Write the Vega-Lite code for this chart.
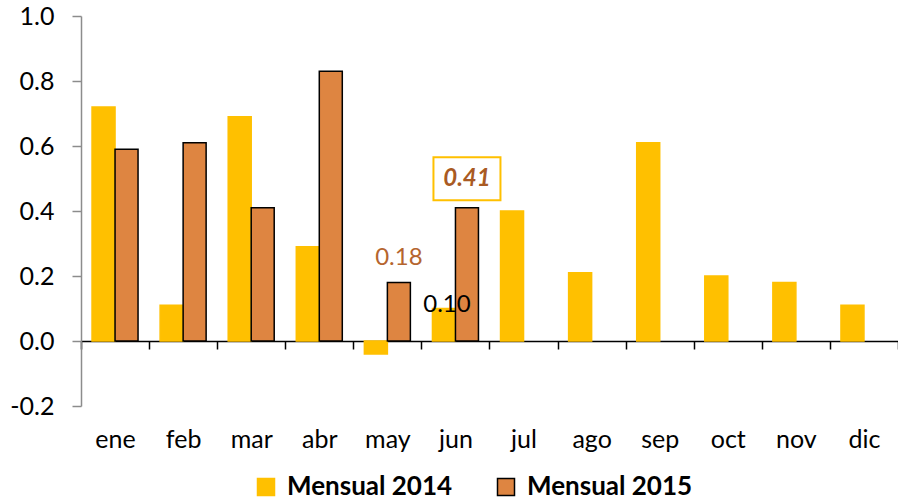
{
  "$schema": "https://vega.github.io/schema/vega-lite/v6.json",
  "width": 817,
  "height": 390,
  "autosize": {"type": "none"},
  "padding": {"left": 81, "top": 16, "right": 0, "bottom": 96},
  "background": "white",
  "config": {"font": "Lato", "view": {"stroke": null}},
  "data": {
    "values": [
      {"mes": "ene", "serie": "Mensual 2014", "valor": 0.72},
      {"mes": "ene", "serie": "Mensual 2015", "valor": 0.59},
      {"mes": "feb", "serie": "Mensual 2014", "valor": 0.11},
      {"mes": "feb", "serie": "Mensual 2015", "valor": 0.61},
      {"mes": "mar", "serie": "Mensual 2014", "valor": 0.69},
      {"mes": "mar", "serie": "Mensual 2015", "valor": 0.41},
      {"mes": "abr", "serie": "Mensual 2014", "valor": 0.29},
      {"mes": "abr", "serie": "Mensual 2015", "valor": 0.83},
      {"mes": "may", "serie": "Mensual 2014", "valor": -0.04},
      {"mes": "may", "serie": "Mensual 2015", "valor": 0.18},
      {"mes": "jun", "serie": "Mensual 2014", "valor": 0.10},
      {"mes": "jun", "serie": "Mensual 2015", "valor": 0.41},
      {"mes": "jul", "serie": "Mensual 2014", "valor": 0.40},
      {"mes": "ago", "serie": "Mensual 2014", "valor": 0.21},
      {"mes": "sep", "serie": "Mensual 2014", "valor": 0.61},
      {"mes": "oct", "serie": "Mensual 2014", "valor": 0.20},
      {"mes": "nov", "serie": "Mensual 2014", "valor": 0.18},
      {"mes": "dic", "serie": "Mensual 2014", "valor": 0.11}
    ]
  },
  "encoding": {
    "x": {
      "field": "mes", "type": "nominal", "sort": null,
      "scale": {"domain": ["ene","feb","mar","abr","may","jun","jul","ago","sep","oct","nov","dic"], "paddingInner": 0, "paddingOuter": 0},
      "axis": {
        "title": null, "orient": "bottom", "offset": -65,
        "domainColor": "black", "domainWidth": 1.5,
        "ticks": true, "tickBand": "extent", "tickColor": "black", "tickSize": 8, "tickWidth": 1.5,
        "labelAngle": 0, "labelFontSize": 25, "labelColor": "black", "labelPadding": 78, "labelFont": "Lato"
      }
    },
    "xOffset": {"field": "serie", "type": "nominal", "scale": {"domain": ["Mensual 2014", "Mensual 2015"], "paddingInner": 0, "paddingOuter": 0.48}},
    "y": {
      "field": "valor", "type": "quantitative",
      "scale": {"domain": [-0.2, 1.0], "nice": false, "zero": false},
      "axis": {
        "title": null, "values": [-0.2, 0, 0.2, 0.4, 0.6, 0.8, 1.0], "format": ".1f", "grid": false,
        "labelExpr": "replace(datum.label, '\u2212', '-')",
        "domainColor": "#8c8c8c", "domainWidth": 1.5, "tickColor": "#8c8c8c", "tickSize": 9, "tickWidth": 1.5,
        "labelFontSize": 25, "labelColor": "black", "labelPadding": 18, "labelFont": "Lato"
      }
    }
  },
  "layer": [
    {
      "mark": {"type": "bar", "strokeWidth": 1.5},
      "encoding": {
        "color": {
          "field": "serie", "type": "nominal",
          "scale": {"domain": ["Mensual 2014", "Mensual 2015"], "range": ["#FFC000", "#DE8541"]},
          "legend": {
            "title": null, "orient": "none", "direction": "horizontal", "legendX": 172, "legendY": 458,
            "symbolType": "square", "symbolSize": 289, "symbolStrokeWidth": 1.5,
            "labelFontSize": 26, "labelFontWeight": "bold", "labelColor": "black", "labelFont": "Lato",
            "labelOffset": 8, "columnPadding": 40, "labelLimit": 400
          }
        },
        "stroke": {
          "field": "serie", "type": "nominal",
          "scale": {"domain": ["Mensual 2014", "Mensual 2015"], "range": ["#FFC000", "black"]},
          "legend": {
            "title": null, "orient": "none", "direction": "horizontal", "legendX": 172, "legendY": 458,
            "symbolType": "square", "symbolSize": 289, "symbolStrokeWidth": 1.5,
            "labelFontSize": 26, "labelFontWeight": "bold", "labelColor": "black", "labelFont": "Lato",
            "labelOffset": 8, "columnPadding": 40, "labelLimit": 400
          }
        }
      }
    },
    {
      "transform": [{"filter": "datum.mes == 'may' && datum.serie == 'Mensual 2015'"}],
      "mark": {"type": "text", "fontSize": 24, "color": "#B5652E", "dy": -25, "baseline": "middle", "font": "Lato"},
      "encoding": {"text": {"field": "valor", "type": "quantitative", "format": ".2f"}}
    },
    {
      "transform": [{"filter": "datum.mes == 'jun' && datum.serie == 'Mensual 2014'"}],
      "mark": {"type": "text", "fontSize": 24, "color": "black", "dy": -4, "dx": 3, "baseline": "middle", "font": "Lato"},
      "encoding": {"text": {"field": "valor", "type": "quantitative", "format": ".2f"}}
    },
    {
      "transform": [{"filter": "datum.mes == 'jun' && datum.serie == 'Mensual 2015'"}],
      "mark": {"type": "point", "shape": "M-1,-0.64H1V0.64H-1Z", "size": 4489, "filled": false, "fill": "white", "fillOpacity": 1, "stroke": "#FFC000", "strokeWidth": 2, "opacity": 1, "yOffset": -29}
    },
    {
      "transform": [{"filter": "datum.mes == 'jun' && datum.serie == 'Mensual 2015'"}],
      "mark": {"type": "text", "fontSize": 24, "fontWeight": "bold", "fontStyle": "italic", "color": "#A95A23", "dy": -29, "baseline": "middle", "font": "Lato"},
      "encoding": {"text": {"field": "valor", "type": "quantitative", "format": ".2f"}}
    }
  ]
}
